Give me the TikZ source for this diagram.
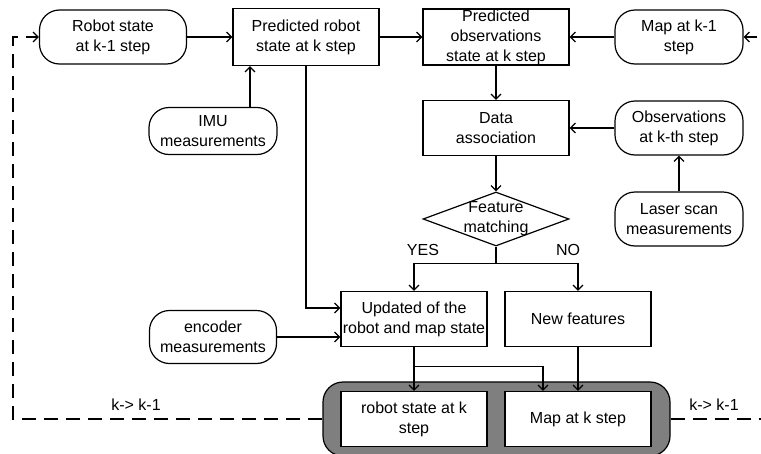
\documentclass[tikz,border=0pt]{standalone}
\usepackage{fontspec}
\setmainfont{Liberation Sans}
\usetikzlibrary{arrows.meta,shapes.geometric,calc}
\definecolor{grp}{RGB}{127,127,127}
\begin{document}
\begin{tikzpicture}[x=1pt,y=-1pt, font=\fontsize{16}{20}\selectfont, line width=1.2pt,
 box/.style={draw, rectangle, minimum width=146pt, minimum height=55pt, inner sep=0pt, align=center},
 rbox/.style={draw, rounded corners=20pt, minimum width=128pt, minimum height=54pt, inner sep=0pt, align=center},
 arr/.style={-{Straight Barb[length=5pt,width=10pt]}},
 dashline/.style={dash pattern=on 14pt off 8pt}]
\clip (0,0) rectangle (761,453);
% nodes
\node[rbox, minimum width=147pt] (rs1) at (113,37) {Robot state\\at k-1 step};
\node[box, minimum height=57pt] (prs) at (306,37) {Predicted robot\\state at k step};
\node[rbox, minimum height=47pt] (imu) at (213,131) {IMU\\measurements};
\node[box, minimum height=56pt] (pos) at (496,37) {Predicted\\observations\\state at k step};
\node[rbox] (mapk1) at (679,37) {Map at k-1\\step};
\node[box] (da) at (496,128) {Data\\association};
\node[rbox] (obs) at (679,128) {Observations\\at k-th step};
\node[rbox] (laser) at (679,219) {Laser scan\\measurements};
\node[draw, diamond, minimum width=146pt, minimum height=54pt, inner sep=0pt, aspect=2.7] (fm) at (496,219) {};
\node[align=center, inner sep=0pt] (fmt) at (fm) {Feature\\matching};
\node[box] (upd) at (414,319) {Updated of the\\robot and map state};
\node[box] (newf) at (578,319) {New features};
\node[rbox, minimum width=127pt, minimum height=53pt] (enc) at (213,337) {encoder\\measurements};
\node[draw, fill=grp, rounded corners=20pt, minimum width=347pt, minimum height=74pt] (grp) at (496.5,419) {};
\node[box, fill=white] (rsk) at (414,419) {robot state at k\\step};
\node[box, fill=white] (mapk) at (578,419) {Map at k step};
% labels
\node (yes) at (423,250) {YES};
\node (no) at (568,250) {NO};
\node (kl) at (136,405) {k-> k-1};
\node (kr) at (714,405) {k-> k-1};
% connectors
\draw[arr] (rs1.east) -- (prs.west);
\draw[arr] ([xshift=37pt]imu.north) -- ([xshift=37pt]imu.north |- prs.south);
\draw[arr] (prs.east) -- (pos.west);
\draw[arr] (mapk1.west) -- (pos.east);
\draw[arr] (pos.south) -- (da.north);
\draw[arr] (obs.west) -- (da.east);
\draw[arr] (laser.north) -- (obs.south);
\draw[arr] (da.south) -- (fm.north);
\coordinate (br) at ([yshift=-17pt]fm.south);
\draw (fm.south) -- (br);
\draw[arr] (br) -| (upd.north);
\draw[arr] (br) -| (newf.north);
\draw[arr] (prs.south) |- ([yshift=11pt]upd.west);
\draw[arr] (enc.east) -- (enc.east -| upd.west);
\draw[arr] (upd.south) -- (rsk.north);
\coordinate (j) at ([yshift=-19pt]upd.south);
\draw[arr] (j) -| ([xshift=-35pt]mapk.north);
\draw[arr] (newf.south) -- (mapk.north);
\coordinate (L) at (13,419);
\coordinate (R) at (765,419);
\draw[dashline,arr] (grp.west) -- (L) |- (rs1.west);
\draw[dashline,arr] (grp.east) -- (R) |- (mapk1.east);
\end{tikzpicture}
\end{document}
